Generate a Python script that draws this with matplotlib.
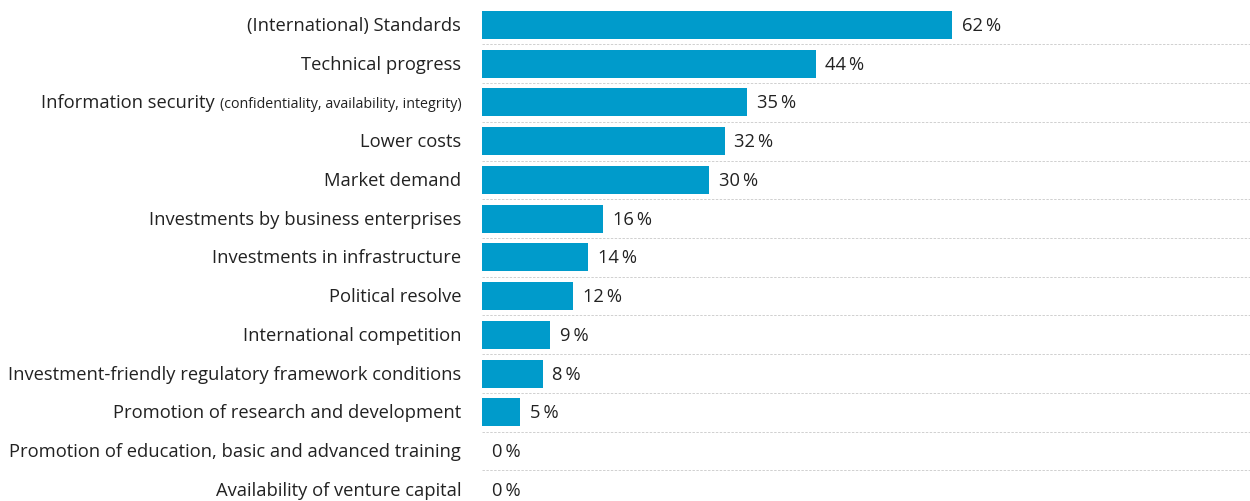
import matplotlib
matplotlib.use("Agg")
import matplotlib.pyplot as plt

plt.rcParams['font.family'] = ['Open Sans', 'DejaVu Sans']

labels = [
    "(International) Standards",
    "Technical progress",
    "Information security",
    "Lower costs",
    "Market demand",
    "Investments by business enterprises",
    "Investments in infrastructure",
    "Political resolve",
    "International competition",
    "Investment-friendly regulatory framework conditions",
    "Promotion of research and development",
    "Promotion of education, basic and advanced training",
    "Availability of venture capital",
]
small_note = "(confidentiality, availability, integrity)"
values = [62, 44, 35, 32, 30, 16, 14, 12, 9, 8, 5, 0, 0]

bar_color = "#009bcb"
text_color = "#222222"
fs = 13.2

fig = plt.figure(figsize=(12.5, 5.02), dpi=100)
ax = fig.add_axes([0.3856, 0, 0.6144, 1])

y = list(range(len(values)))
ax.barh(y, values, height=0.72, color=bar_color, zorder=2)

for i in range(len(values) - 1):
    ax.axhline(i + 0.5, color="#d0d0d0", lw=0.7, ls=(0, (2.5, 1.5)), zorder=1)

for i, v in enumerate(values):
    ax.annotate(f"{v}\u2009%", xy=(v, i), xytext=(7, 0), textcoords="offset points",
                ha="left", va="center", fontsize=fs, color=text_color)

ax.set_xlim(0, 101.3)
ax.set_ylim(12.29, -0.67)
ax.axis("off")

composite = []
for i, lab in enumerate(labels):
    if i == 2:
        small = ax.annotate(small_note, xy=(0, i), xycoords=("axes fraction", "data"),
                            xytext=(-15, 0), textcoords="offset points",
                            ha="right", va="baseline", fontsize=10.3, color=text_color)
        composite.append((i, lab, small))
    else:
        ax.annotate(lab, xy=(0, i), xycoords=("axes fraction", "data"),
                    xytext=(-15, 0), textcoords="offset points",
                    ha="right", va="center", fontsize=fs, color=text_color)

# big part of the composite label goes left of the small note, same baseline
fig.canvas.draw()
r = fig.canvas.get_renderer()
for i, lab, small in composite:
    bb = small.get_window_extent(r)
    ref = ax.annotate(lab, xy=(0, i), xycoords=("axes fraction", "data"),
                      xytext=(-15, 0), textcoords="offset points",
                      ha="right", va="center", fontsize=fs, color=text_color)
    fig.canvas.draw()
    rb = ref.get_window_extent(r)
    ref.remove()
    big = ax.annotate(lab + " ", xy=(0, i), xycoords=("axes fraction", "data"),
                      xytext=(-15 - bb.width * 72 / fig.dpi, 0), textcoords="offset points",
                      ha="right", va="baseline", fontsize=fs, color=text_color)
    fig.canvas.draw()
    gb = big.get_window_extent(r)
    dy = (rb.y0 - gb.y0) * 72 / fig.dpi
    big.xyann = (big.xyann[0], dy)
    small.xyann = (small.xyann[0], dy)

fig.savefig("out.png", dpi=100)
